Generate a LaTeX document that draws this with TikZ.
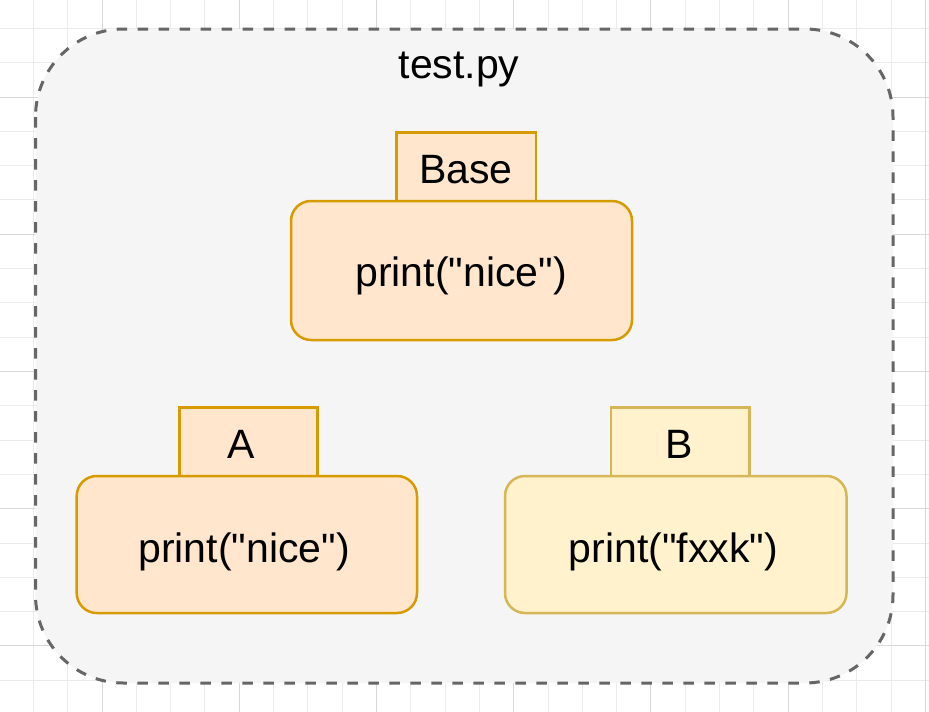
\documentclass[tikz,border=0pt]{standalone}
\usepackage{fontspec}
\setmainfont{Liberation Sans}
\definecolor{gridminor}{HTML}{EBEBEB}
\definecolor{gridmajor}{HTML}{D8D8D8}
\definecolor{contfill}{HTML}{F5F5F5}
\definecolor{contline}{HTML}{666666}
\definecolor{orfill}{HTML}{FFE6CC}
\definecolor{orline}{HTML}{D79B00}
\definecolor{yefill}{HTML}{FFF2CC}
\definecolor{yeline}{HTML}{D6B656}
\tikzset{
  container/.style={draw=contline, fill=contfill, line width=3pt, dash pattern=on 10.5pt off 10.5pt, rounded corners=88pt},
  orangetab/.style={draw=orline, fill=orfill, line width=2.5pt},
  orangebody/.style={draw=orline, fill=orfill, line width=2.5pt, rounded corners=20pt},
  yellowtab/.style={draw=yeline, fill=yefill, line width=2.5pt},
  yellowbody/.style={draw=yeline, fill=yefill, line width=2.5pt, rounded corners=20pt},
  lbl/.style={anchor=base, inner sep=0pt, font=\fontsize{41}{49}\selectfont}
}
\newcommand{\dq}{\textquotedbl}
\begin{document}
\begin{tikzpicture}[x=1pt,y=-1pt]
\useasboundingbox (0,0) rectangle (929,712);
\fill[white] (0,0) rectangle (929,712);
% grid
\foreach \i in {0,...,26} {
  \pgfmathsetmacro{\gx}{33.4+34.31*\i}
  \draw[gridminor, line width=1pt] (\gx,0) -- (\gx,712);
}
\foreach \i in {0,...,20} {
  \pgfmathsetmacro{\gy}{28.4+34.31*\i}
  \draw[gridminor, line width=1pt] (0,\gy) -- (929,\gy);
}
\foreach \i in {0,...,6} {
  \pgfmathsetmacro{\gx}{102+137.24*\i}
  \draw[gridmajor, line width=1pt] (\gx,0) -- (\gx,712);
}
\foreach \i in {0,...,4} {
  \pgfmathsetmacro{\gy}{97+137.24*\i}
  \draw[gridmajor, line width=1pt] (0,\gy) -- (929,\gy);
}
% container
\draw[container] (35.5,29) rectangle (893,683);
\node[lbl] (title) at (459,78) {test.py};
% Base
\draw[orangetab] (396.7,132.7) rectangle (536,201);
\draw[orangebody] (291,201) rectangle (632,340);
\node[lbl] (basetab) at (466,183.3) {Base};
\node[lbl] (basebody) at (461,286.7) {print(\dq nice\dq)};
% A
\draw[orangetab] (179.5,407.7) rectangle (317.3,476);
\draw[orangebody] (76.7,476) rectangle (417,613);
\node[lbl] (atab) at (241.5,458) {A};
\node[lbl] (abody) at (244,562) {print(\dq nice\dq)};
% B
\draw[yellowtab] (611,407.5) rectangle (749.5,476);
\draw[yellowbody] (505,476) rectangle (846.5,613);
\node[lbl] (btab) at (679,458) {B};
\node[lbl] (bbody) at (673.5,562) {print(\dq fxxk\dq)};
\end{tikzpicture}
\end{document}
